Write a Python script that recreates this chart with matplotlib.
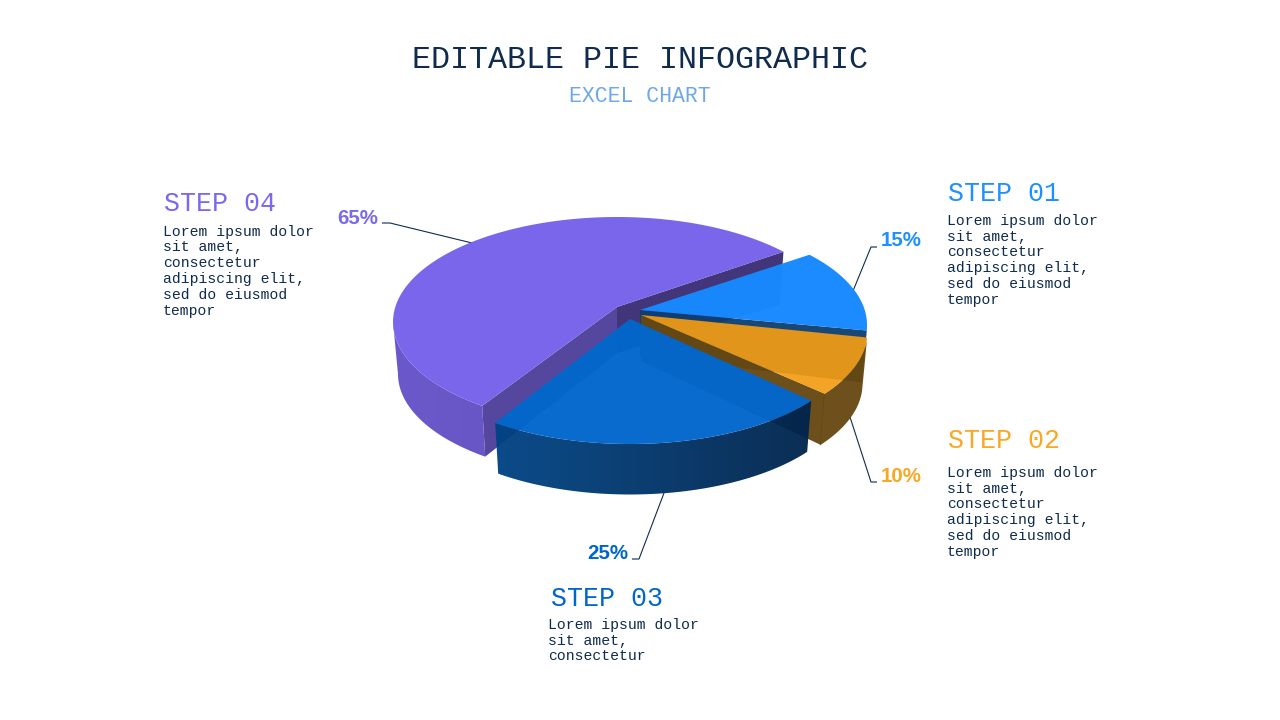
import matplotlib
matplotlib.use("Agg")
import matplotlib.pyplot as plt
import numpy as np
from matplotlib.patches import Polygon

# ── Data ──────────────────────────────────────────────────────────────────────
steps = ["STEP 01", "STEP 02", "STEP 03", "STEP 04"]
pct_labels = ["15%", "10%", "25%", "65%"]
# the labels do not add up to 100, so the sweeps are read off the drawing
sweep_deg = [45, 33, 91, 191]
start_deg = 42

body_long = ["Lorem ipsum dolor", "sit amet,", "consectetur",
             "adipiscing elit,", "sed do eiusmod", "tempor"]
body_short = ["Lorem ipsum dolor", "sit amet,", "consectetur"]
bodies = [body_long, body_long, body_short, body_long]

# ── Colours ───────────────────────────────────────────────────────────────────
NAVY = "#0F2C4E"
step_colors = ["#1E90FF", "#F9A825", "#0066CC", "#7B68EE"]
top_colors = ["#1689FF", "#F39C13", "#0367CC", "#7966EA"]
top_alpha = [0.98, 0.92, 0.975, 1.0]
arc_colors = [("#0F3F70", "#0F3F70"), ("#674811", "#674811"),
              ("#004C94", "#002045"), ("#6450C8", "#5A49B4")]
end_wall = ["#0F3F70", "#674811", None, "#3A2C74"]
start_wall = [None, None, None, "#4E3F9A"]

# ── Layout (pixels of the 1280x720 canvas, text y are baselines) ──────────────
RX, RY = 224, 105
RX_BOT, RY_BOT = 219, 103.5
DEPTH, APEX_DEPTH = 52, 46
centers = [(643, 325), (643.5, 332), (630, 339), (617, 322)]
apexes = [(640, 310), (641, 315), (630, 319), (617, 307)]
draw_order = [3, 0, 1, 2]

leaders = [[(853, 291), (871, 247), (877, 247)],
           [(850, 417), (871, 482), (877, 482)],
           [(664, 493), (639, 559), (632, 559)],
           [(472, 243), (390, 223), (382, 223)]]
pct_pos = [(881, 246, "left"), (881, 482, "left"),
           (628.5, 559, "right"), (378.5, 224, "right")]
step_pos = [(948, 201), (948, 448), (551, 606), (164, 211)]
body_pos = [(947, 224.7), (947, 476.7), (548, 628.7), (163, 235.7)]
LINE_H = 15.8

MONO = "Liberation Mono"
SANS = "Liberation Sans"

fig = plt.figure(figsize=(12.8, 7.2), dpi=100)
ax = fig.add_axes([0, 0, 1, 1])


def arc(cx, cy, rx, ry, a0, a1):
    t = np.radians(np.linspace(a0, a1, 120))
    return np.column_stack([cx + rx * np.cos(t), cy - ry * np.sin(t)])


def edge_pt(cx, cy, a):
    return arc(cx, cy, RX, RY, a, a)[0], arc(cx, cy + DEPTH, RX_BOT, RY_BOT, a, a)[0]


def radial_wall(apex, cx, cy, a, color, z):
    top, bot = edge_pt(cx, cy, a)
    pts = [apex, top, bot, (apex[0], apex[1] + APEX_DEPTH)]
    ax.add_patch(Polygon(pts, closed=True, fc=color, ec="none", alpha=0.96, zorder=z))


# ── Wedges, back to front ─────────────────────────────────────────────────────
ends = start_deg - np.cumsum(sweep_deg)
starts = ends + np.array(sweep_deg)

z = 1
for i in draw_order:
    cx, cy = centers[i]
    a0, a1 = starts[i], ends[i]

    if start_wall[i]:
        radial_wall(apexes[i], cx, cy, a0, start_wall[i], z)
        z += 1
    if end_wall[i]:
        radial_wall(apexes[i], cx, cy, a1, end_wall[i], z)
        z += 1

    # outer wall, only the part that faces the viewer
    # (a small overlap hides the seam against a radial wall)
    pad = 0.4 if end_wall[i] else 0
    hi, lo = min(a0, 0), max(a1 - pad, -180)
    if hi > lo:
        upper = arc(cx, cy, RX, RY, hi, lo)
        lower = arc(cx, cy + DEPTH, RX_BOT, RY_BOT, lo, hi)
        wall = Polygon(np.vstack([upper, lower]), closed=True, fc="none", ec="none",
                       transform=ax.transData)
        ax.add_patch(wall)
        c0 = np.array(matplotlib.colors.to_rgb(arc_colors[i][0]))
        c1 = np.array(matplotlib.colors.to_rgb(arc_colors[i][1]))
        grad = np.linspace(c0, c1, 256)[np.newaxis, :, :]
        im = ax.imshow(grad, extent=(cx - RX, cx + RX, cy + 200, cy - 200),
                       aspect="auto", alpha=0.96, zorder=z, interpolation="bilinear")
        im.set_clip_path(wall)
        z += 1

    # top face
    top = np.vstack([[apexes[i]], arc(cx, cy, RX, RY, a0, a1)])
    ax.add_patch(Polygon(top, closed=True, fc=top_colors[i], ec="none",
                         alpha=top_alpha[i], zorder=z))
    z += 1

# ── Leader lines ──────────────────────────────────────────────────────────────
for pts in leaders:
    xs, ys = zip(*pts)
    ax.plot(xs, ys, color=NAVY, lw=0.8, zorder=0.5, solid_capstyle="butt")

# ── Text ──────────────────────────────────────────────────────────────────────
ax.text(640, 68, "EDITABLE PIE INFOGRAPHIC", fontsize=22.9, family=MONO,
        color=NAVY, ha="center", va="baseline")
ax.text(640, 101.5, "EXCEL CHART", fontsize=15.5, family=MONO,
        color="#6FA8EA", ha="center", va="baseline")

for i in range(len(steps)):
    x, y, align = pct_pos[i]
    ax.text(x, y, pct_labels[i], fontsize=14.8, family=SANS, fontweight="bold",
            color=step_colors[i], ha=align, va="baseline", zorder=50)
    x, y = step_pos[i]
    ax.text(x, y, steps[i], fontsize=19.2, family=MONO, color=step_colors[i],
            ha="left", va="baseline", zorder=50)
    x, y = body_pos[i]
    for n, line in enumerate(bodies[i]):
        ax.text(x, y + n * LINE_H, line, fontsize=10.65, family=MONO, color=NAVY,
                ha="left", va="baseline", zorder=50)

ax.set_xlim(0, 1280)
ax.set_ylim(720, 0)
ax.axis("off")

fig.savefig("out.png", dpi=100, facecolor="white")
plt.close(fig)
